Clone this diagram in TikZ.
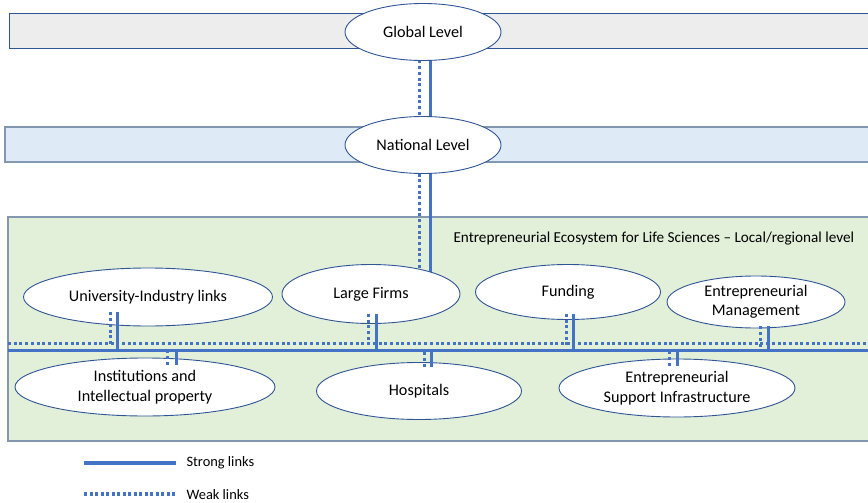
\documentclass[tikz,border=0pt]{standalone}
\usepackage{fontspec}
\setmainfont{Carlito}
\usetikzlibrary{shapes.geometric}
\definecolor{linkblue}{HTML}{4472C4}
\definecolor{rimblue}{HTML}{2F5597}
\definecolor{bandrim}{HTML}{8497B0}
\definecolor{globalgray}{HTML}{EDEDED}
\definecolor{nationalblue}{HTML}{DEEBF7}
\definecolor{localgreen}{HTML}{E2F0D9}
\pgfdeclarelayer{back}
\pgfsetlayers{back,main}
\begin{document}
\begin{tikzpicture}[x=1pt,y=-1pt,
  actor/.style={ellipse,draw=rimblue,line width=0.9pt,fill=white,inner sep=0pt,align=center,font=\fontsize{16.2}{19.5}\selectfont},
  band/.style={draw=bandrim,line width=1.3pt},
  strong/.style={linkblue,line width=3pt},
  weak/.style={linkblue,line width=3pt,dash pattern=on 3pt off 2.7pt}]
\useasboundingbox (0,0) rectangle (868,503);
\begin{pgfonlayer}{back}
\draw[band,draw=rimblue,line width=1pt,fill=globalgray] (9,14) rectangle (875,49);
\draw[band,fill=nationalblue] (5,127) rectangle (875,162);
\draw[band,fill=localgreen] (8,217) rectangle (875,441);
\end{pgfonlayer}
% levels
\node[actor,minimum width=156pt,minimum height=57pt] (glob) at (423,32) {Global Level};
\node[actor,minimum width=156pt,minimum height=57pt] (nat) at (423,145) {National Level};
\node[anchor=west,font=\fontsize{15.2}{18}\selectfont] (eco) at (450,239) {Entrepreneurial Ecosystem for Life Sciences -- Local/regional level};
% actors above the bus
\node[actor,minimum width=249pt,minimum height=58pt] (uil) at (148,297) {University-Industry links};
\node[actor,minimum width=178pt,minimum height=59pt] (lf) at (371,294) {Large Firms};
\node[actor,minimum width=185pt,minimum height=55pt] (fund) at (568,292) {Funding};
\node[actor,minimum width=178pt,minimum height=52pt] (em) at (756,302) {Entrepreneurial\\Management};
% actors below the bus
\node[actor,minimum width=260pt,minimum height=58pt] (inst) at (145,387) {Institutions and\\Intellectual property};
\node[actor,minimum width=205pt,minimum height=57pt] (hosp) at (419,391) {Hospitals};
\node[actor,minimum width=236pt,minimum height=58pt] (esi) at (677,388) {Entrepreneurial\\Support Infrastructure};
\coordinate (busW) at (8,343.5);
\coordinate (busS) at (8,350.5);
\coordinate (busE) at (875,350.5);
\begin{pgfonlayer}{back}
\draw[weak] ([xshift=-4pt]glob.center) -- ([xshift=-4pt]nat.center);
\draw[strong] ([xshift=7pt]glob.center) -- ([xshift=7pt]nat.center);
\draw[weak] ([xshift=-4pt]nat.center) -- ([xshift=-4pt]nat.center |- lf.center);
\draw[strong] ([xshift=7pt]nat.center) -- ([xshift=7pt]nat.center |- lf.center);
\draw[weak] (busW) -- (busW -| busE);
\draw[strong] (busS) -- (busE);
\end{pgfonlayer}
% links to the bus
\foreach \n/\d/\s/\u in {uil/-37.5/-31/14,lf/-3/5/10,fund/-2/5/6,em/4/12/2}{
  \draw[weak] ([xshift=\d pt,yshift=\u pt]\n.south) -- ([xshift=\d pt,yshift=-3pt]\n.south |- busW);
  \draw[strong] ([xshift=\s pt,yshift=\u pt]\n.south) -- ([xshift=\s pt]\n.south |- busS);
}
\foreach \n/\d/\s/\u in {inst/22.5/31/7,hosp/5/12/4.5,esi/-8/0/7}{
  \draw[weak] ([xshift=\d pt,yshift=-\u pt]\n.north) -- ([xshift=\d pt]\n.north |- busS);
  \draw[strong] ([xshift=\s pt,yshift=-\u pt]\n.north) -- ([xshift=\s pt]\n.north |- busS);
}
% legend
\node[anchor=west,font=\fontsize{14.4}{16}\selectfont] (strongkey) at (183,463) {Strong links};
\node[anchor=west,font=\fontsize{14.4}{16}\selectfont] (weakkey) at (183,495) {Weak links};
\coordinate (sk) at (84,463);
\coordinate (wk) at (84,494);
\draw[linkblue,line width=3.5pt] (sk) -- ([xshift=-7pt]sk -| strongkey.west);
\draw[linkblue,line width=4pt,dash pattern=on 3pt off 2.5pt] (wk) -- ([xshift=-7pt]wk -| weakkey.west);
\end{tikzpicture}
\end{document}
